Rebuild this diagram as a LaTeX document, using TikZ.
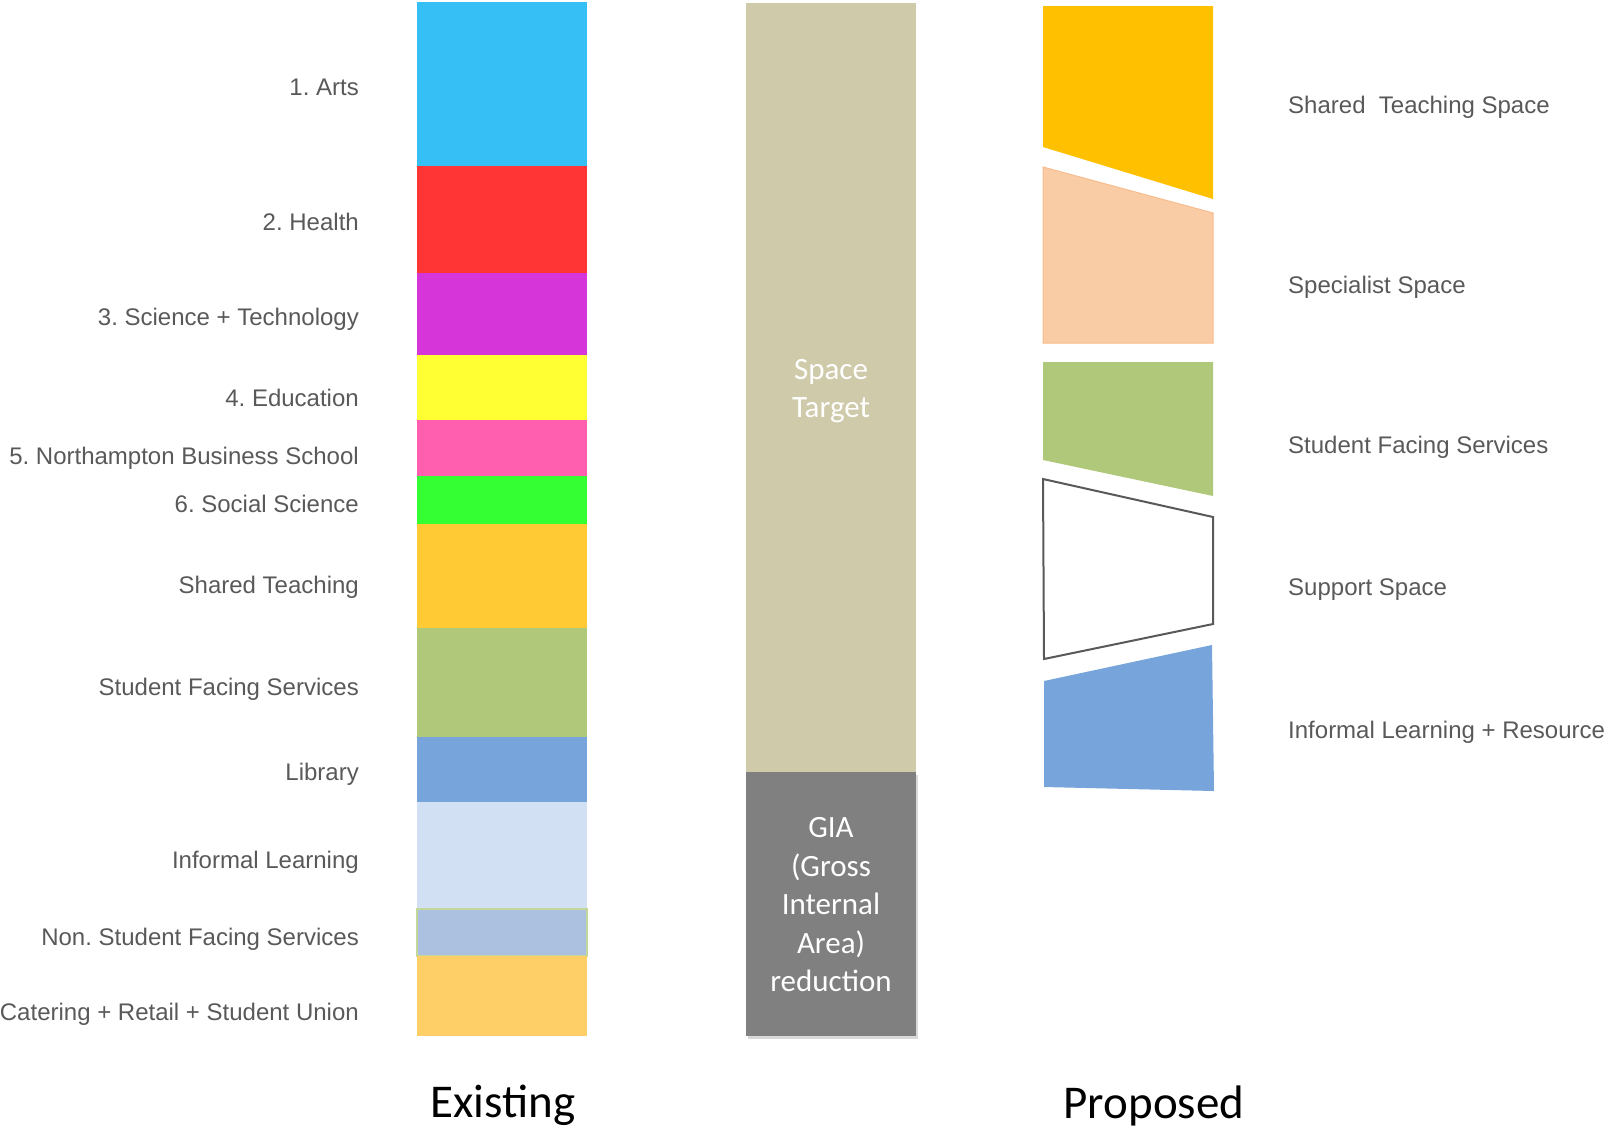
\documentclass[tikz,border=0pt]{standalone}
\usepackage{fontspec}
\setmainfont{Liberation Sans}
\newfontfamily\calibri{Carlito}
\usepackage{xcolor}
\usepackage{tikz}
\usetikzlibrary{shadows}
\frenchspacing
\definecolor{txtGray}{HTML}{595959}
\definecolor{artsBlue}{HTML}{35BFF5}
\definecolor{healthRed}{HTML}{FF3535}
\definecolor{sciPurple}{HTML}{D535D9}
\definecolor{eduYellow}{HTML}{FFFF33}
\definecolor{nbsPink}{HTML}{FF5FAE}
\definecolor{socGreen}{HTML}{33FF33}
\definecolor{sharedAmber}{HTML}{FFCA33}
\definecolor{sfsGreen}{HTML}{B0C87A}
\definecolor{libBlue}{HTML}{76A4DB}
\definecolor{infBlue}{HTML}{D2E0F3}
\definecolor{nsfsBlue}{HTML}{ACC1E0}
\definecolor{nsfsEdge}{HTML}{C4D79B}
\definecolor{caterGold}{HTML}{FECF67}
\definecolor{targetTan}{HTML}{CFCAAA}
\definecolor{giaGray}{HTML}{808080}
\definecolor{propGold}{HTML}{FFC000}
\definecolor{propPeach}{HTML}{FACCA6}
\definecolor{peachEdge}{HTML}{F8BC8C}

\begin{document}
\begin{tikzpicture}[x=1pt, y=-1pt,
  seg/.style={inner sep=0pt, outer sep=0pt, minimum width=170pt},
  lbl/.style={text=txtGray, inner sep=0pt, font=\fontsize{24}{29}\selectfont},
  heading/.style={inner sep=0pt, font=\calibri\fontsize{47}{56}\selectfont},
  boxtxt/.style={text=white, align=center, inner sep=0pt, font=\calibri\fontsize{31}{38.5}\selectfont}]
\useasboundingbox (0,0) rectangle (1608,1128);
% --- existing: stacked faculty / service areas ---
\node[seg, fill=artsBlue, minimum height=164pt] (arts) at (502,84) {};
\node[seg, fill=healthRed, minimum height=107pt] (health) at (502,219.5) {};
\node[seg, fill=sciPurple, minimum height=82pt] (sci) at (502,314) {};
\node[seg, fill=eduYellow, minimum height=65pt] (edu) at (502,387.5) {};
\node[seg, fill=nbsPink, minimum height=56pt] (nbs) at (502,448) {};
\node[seg, fill=socGreen, minimum height=48pt] (soc) at (502,500) {};
\node[seg, fill=sharedAmber, minimum height=104pt] (shared) at (502,576) {};
\node[seg, fill=sfsGreen, minimum height=109pt] (sfs) at (502,682.5) {};
\node[seg, fill=libBlue, minimum height=65pt] (lib) at (502,769.5) {};
\node[seg, fill=infBlue, minimum height=107pt] (inf) at (502,855.5) {};
\node[seg, fill=nsfsBlue, draw=nsfsEdge, line width=1.2pt, minimum height=47pt] (nsfs) at (502,932.5) {};
\node[seg, fill=caterGold, minimum height=80pt] (cater) at (502,996) {};
% labels, right aligned against the column
\node[lbl, anchor=base east] (artsL) at (359,95) {1. Arts};
\node[lbl, anchor=base east] (healthL) at (359,230) {2. Health};
\node[lbl, anchor=base east] (sciL) at (359,325) {3. Science + Technology};
\node[lbl, anchor=base east] (eduL) at (359,406) {4. Education};
\node[lbl, anchor=base east] (nbsL) at (359,464) {5. Northampton Business School};
\node[lbl, anchor=base east] (socL) at (359,512) {6. Social Science};
\node[lbl, anchor=base east] (sharedL) at (359,593) {Shared Teaching};
\node[lbl, anchor=base east] (sfsL) at (359,695) {Student Facing Services};
\node[lbl, anchor=base east] (libL) at (359,780) {Library};
\node[lbl, anchor=base east] (infL) at (359,868) {Informal Learning};
\node[lbl, anchor=base east] (nsfsL) at (359,945) {Non. Student Facing Services};
\node[lbl, anchor=base east] (caterL) at (359,1020) {Catering + Retail + Student Union};
% --- target column ---
\node[seg, fill=targetTan, minimum height=769pt] (target) at (831,387.5) {};
\node[seg, fill=giaGray, minimum height=264pt,
  drop shadow={shadow xshift=2pt, shadow yshift=-3pt, opacity=0.3}] (gia) at (831,904) {};
\node[boxtxt] (targetT) at (831,391) {Space\\Target};
\node[boxtxt] (giaT) at (831,905) {GIA\\(Gross\\Internal\\Area)\\reduction};
% --- proposed: skewed blocks ---
\fill[propGold] (1043,6) -- (1213,6) -- (1213,199) -- (1043,147) -- cycle;
\filldraw[fill=propPeach, draw=peachEdge, line width=1pt] (1043,167) -- (1213,213) -- (1213,343) -- (1043,343) -- cycle;
\fill[sfsGreen] (1043,362) -- (1213,362) -- (1213,496) -- (1043,460) -- cycle;
\filldraw[fill=white, draw=txtGray, line width=2pt] (1043,479) -- (1213,517) -- (1213,624) -- (1044,659) -- cycle;
\fill[libBlue] (1044,681) -- (1212,645) -- (1214,791) -- (1044,787) -- cycle;
\node[lbl, anchor=base west] (propSharedL) at (1288,113) {Shared\ \ Teaching Space};
\node[lbl, anchor=base west] (propSpecL) at (1288,293) {Specialist Space};
\node[lbl, anchor=base west] (propSfsL) at (1288,453) {Student Facing Services};
\node[lbl, anchor=base west] (propSuppL) at (1288,595) {Support Space};
\node[lbl, anchor=base west] (propInfL) at (1288,738) {Informal Learning + Resource};
% --- column headings ---
\node[heading, anchor=base] (existing) at (503,1117) {Existing};
\node[heading, anchor=base] (proposed) at (1154,1118) {Proposed};
\end{tikzpicture}
\end{document}
